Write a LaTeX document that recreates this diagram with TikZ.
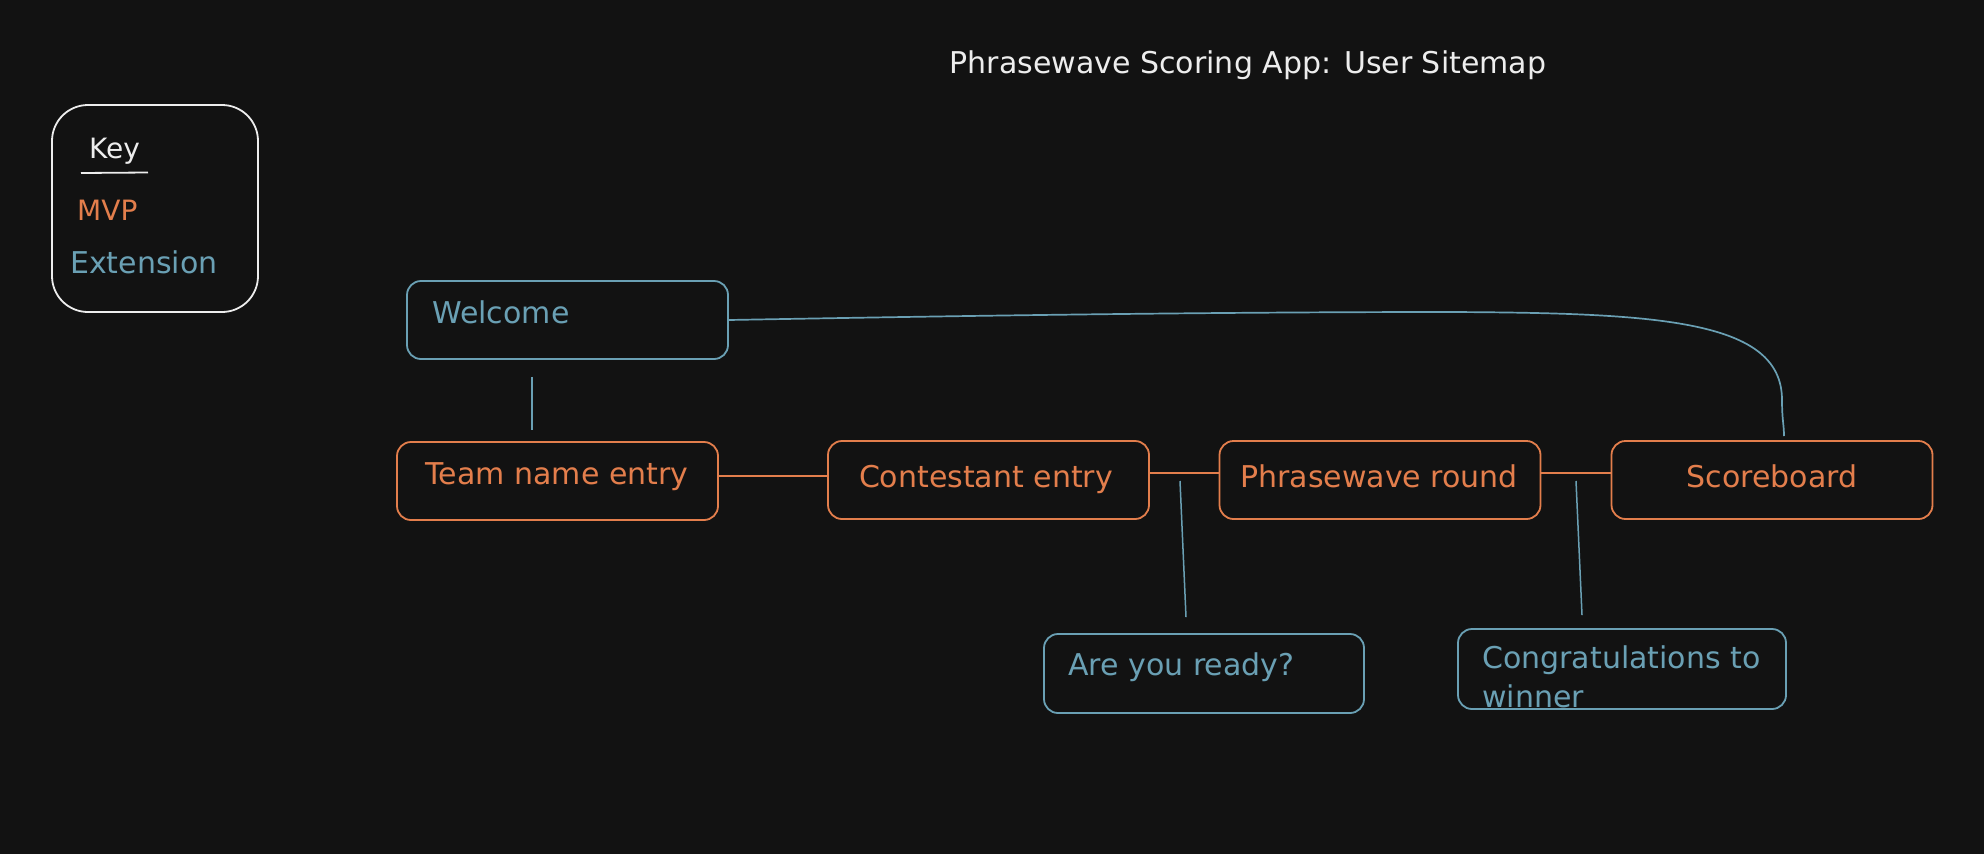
\documentclass[tikz,border=0pt]{standalone}
\usepackage{fontspec}
\setmainfont{DejaVu Sans}
\definecolor{bg}{HTML}{121212}
\definecolor{mvp}{HTML}{E37E4C}
\definecolor{ext}{HTML}{6AA0B4}
\definecolor{ink}{HTML}{EDEDED}
\tikzset{
  box/.style={draw, rounded corners=14pt, line width=1.8pt, minimum width=321pt, minimum height=78pt, inner sep=0pt},
  mvpbox/.style={box, draw=mvp},
  extbox/.style={box, draw=ext},
  lbl/.style={font=\fontsize{30}{39}\selectfont, inner sep=0pt},
  mvptext/.style={lbl, text=mvp},
  exttext/.style={lbl, text=ext},
  mvpline/.style={draw=mvp, line width=1.8pt},
  extline/.style={draw=ext, line width=1.5pt},
}
\begin{document}
\begin{tikzpicture}[x=1pt,y=-1pt]
\fill[bg] (0,0) rectangle (1984,854);
\useasboundingbox (0,0) rectangle (1984,854);

% title
\node[lbl, text=ink, anchor=base] (title) at (1248,73) {Phrasewave Scoring App: User Sitemap};

% key
\node[draw=ink, line width=1.8pt, rounded corners=36pt, minimum width=206pt, minimum height=207pt, inner sep=0pt] (key) at (155,208.5) {};
\node[lbl, text=ink, anchor=base west, font=\fontsize{28}{34}\selectfont] (keyt) at (89,158) {Key};
\draw[ink, line width=1.8pt] (81,173) -- (148,172.5);
\node[mvptext, anchor=base west, font=\fontsize{28}{34}\selectfont] (keymvp) at (77,220) {MVP};
\node[exttext, anchor=base west] (keyext) at (70,273) {Extension};

% boxes
\node[extbox] (welcome) at (567.5,320) {};
\node[exttext, anchor=base west] (welcomet) at (432,323) {Welcome};

\node[mvpbox] (team) at (557.5,481) {};
\node[mvptext, anchor=base] (teamt) at (557,484) {Team name entry};

\node[mvpbox] (cont) at (988.5,480) {};
\node[mvptext, anchor=base] (contt) at (986,487) {Contestant entry};

\node[mvpbox] (phrase) at (1380,480) {};
\node[mvptext, anchor=base] (phraset) at (1379,487) {Phrasewave round};

\node[mvpbox] (score) at (1772,480) {};
\node[mvptext, anchor=base] (scoret) at (1772,487) {Scoreboard};

\node[extbox, minimum width=320pt, minimum height=79pt] (ready) at (1204,673.5) {};
\node[exttext, anchor=base west] (readyt) at (1068,675) {Are you ready?};

\node[extbox, minimum width=328pt, minimum height=80pt] (congr) at (1622,669) {};
\node[exttext, anchor=base west] (congrt) at (1482,668) {Congratulations to};
\node[exttext, anchor=base west] (congrt2) at (1482,707) {winner};

% connectors
\draw[mvpline] ([yshift=5pt]team.east) -- ([yshift=4pt]cont.west);
\draw[mvpline] ([yshift=7pt]cont.east) -- ([yshift=7pt]phrase.west);
\draw[mvpline] ([yshift=7pt]phrase.east) -- ([yshift=7pt]score.west);

\draw[extline] ([xshift=-35.5pt,yshift=-17pt]welcome.south) -- ([xshift=-25.5pt,yshift=11pt]team.north);

\coordinate (j1) at (1180,481);
\coordinate (j2) at (1576,481);
\draw[extline] (j1) -- ([xshift=-18pt,yshift=16pt]ready.north);
\draw[extline] (j2) -- ([xshift=-40pt,yshift=13pt]congr.north);

\coordinate (sbtop) at (1784,436);
\draw[extline, line width=1.7pt] (welcome.east) .. controls (950,316) and (1200,312) .. (1450,312)
  .. controls (1660,313) and (1782,320) .. (1782,400) .. controls (1782,420) and (1784,425) .. (sbtop);
\end{tikzpicture}
\end{document}
